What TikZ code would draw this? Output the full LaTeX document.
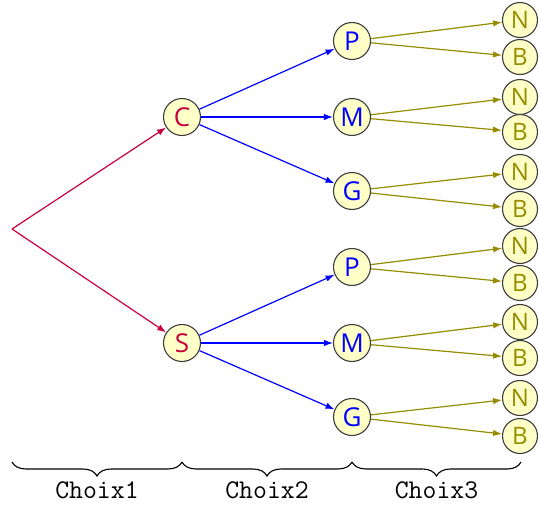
\documentclass[tikz,border=0pt]{standalone}
\usepackage{fontspec}
\setmainfont{Open Sans}
\usetikzlibrary{arrows.meta,decorations.pathreplacing}
\definecolor{crim}{RGB}{200,0,60}
\definecolor{oliv}{RGB}{150,140,0}
\definecolor{nfill}{RGB}{255,255,200}
\definecolor{nborder}{RGB}{60,60,60}
\begin{document}
\begin{tikzpicture}[x=1pt,y=-1pt,
  inner/.style={circle,draw=nborder,line width=1.1pt,fill=nfill,minimum size=37pt,inner sep=0pt,font=\fontsize{26}{30}\selectfont},
  leaf/.style={circle,draw=nborder,line width=1.1pt,fill=nfill,minimum size=35pt,inner sep=0pt,text=oliv,font=\fontsize{24}{28}\selectfont},
  e1/.style={crim,line width=1.2pt,-{Latex[length=9pt,width=6.5pt]}},
  e2/.style={blue,line width=1.2pt,-{Latex[length=9pt,width=6.5pt]}},
  e3/.style={oliv,line width=1.2pt,-{Latex[length=9pt,width=6.5pt]}},
  br/.style={line width=1.1pt,decorate,decoration={brace,mirror,amplitude=14pt}},
  lab/.style={font=\ttfamily\fontsize{27}{30}\selectfont}
]
\useasboundingbox (0,0) rectangle (539,512);
\coordinate (R) at (12,229);
\node[inner,text=crim] (C) at (182,117) {C};
\node[inner,text=crim] (S) at (182,343) {S};
\node[inner,text=blue] (P1) at (352,41) {P};
\node[inner,text=blue] (M1) at (352,117) {M};
\node[inner,text=blue] (G1) at (352,191) {G};
\node[inner,text=blue] (P2) at (352,267) {P};
\node[inner,text=blue] (M2) at (352,343) {M};
\node[inner,text=blue] (G2) at (352,417) {G};
\foreach \n/\y in {1/20,2/97,3/172,4/246,5/322,6/398}{
  \node[leaf] (N\n) at (520,\y) {N};
}
\foreach \n/\y in {1/57,2/132,3/209,4/283,5/358,6/436}{
  \node[leaf] (B\n) at (520,\y) {B};
}
\draw[e1] (R) -- (C);
\draw[e1] (R) -- (S);
\draw[e2] (C) -- (P1);
\draw[e2] (C) -- (M1);
\draw[e2] (C) -- (G1);
\draw[e2] (S) -- (P2);
\draw[e2] (S) -- (M2);
\draw[e2] (S) -- (G2);
\draw[e3] (P1) -- (N1); \draw[e3] (P1) -- (B1);
\draw[e3] (M1) -- (N2); \draw[e3] (M1) -- (B2);
\draw[e3] (G1) -- (N3); \draw[e3] (G1) -- (B3);
\draw[e3] (P2) -- (N4); \draw[e3] (P2) -- (B4);
\draw[e3] (M2) -- (N5); \draw[e3] (M2) -- (B5);
\draw[e3] (G2) -- (N6); \draw[e3] (G2) -- (B6);
\coordinate (b0) at (12,462);
\coordinate (b1) at (182,462);
\coordinate (b2) at (352,462);
\coordinate (b3) at (521,462);
\draw[br] (b0) -- node[below=16pt,lab] (L1) {Choix1} (b1);
\draw[br] (b1) -- node[below=16pt,lab] (L2) {Choix2} (b2);
\draw[br] (b2) -- node[below=16pt,lab] (L3) {Choix3} (b3);
\end{tikzpicture}
\end{document}
